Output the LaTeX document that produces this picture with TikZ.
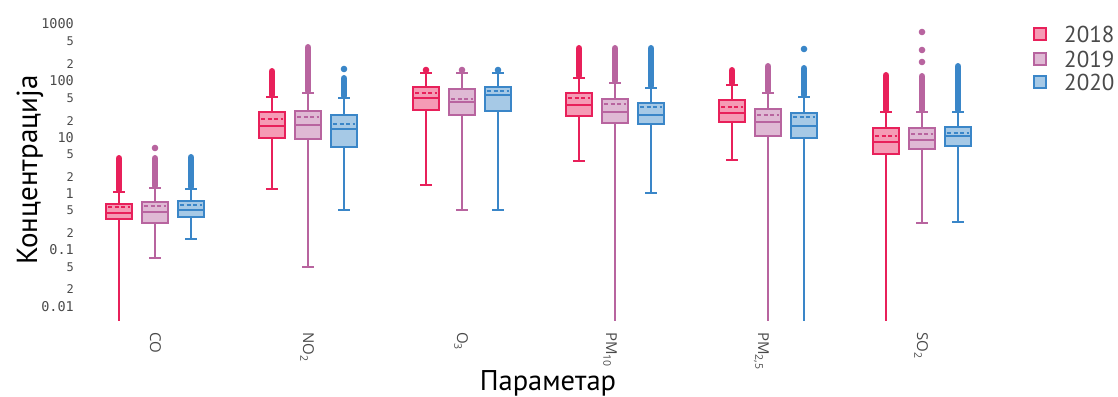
\documentclass[tikz,border=0pt]{standalone}
\usepackage{fontspec}
\setmainfont{PT Sans}
\newfontfamily\tickfont{DejaVu Sans Mono}
\newfontfamily\labfont{Open Sans}
\definecolor{cA}{HTML}{E8205A}
\definecolor{cB}{HTML}{B8649F}
\definecolor{cC}{HTML}{3A86C8}
\definecolor{txt}{HTML}{4A4A4A}
\newcommand\bxp[8]{%
  \draw[#2, line width=2pt] (#1,#3) -- (#1,#4);
  \draw[#2, line width=2pt] (#1-6,#3) -- (#1+6,#3);
  \draw[#2, line width=2pt] (#1,#7) -- (#1,#8);
  \filldraw[draw=#2, fill=#2!45, line width=2pt] (#1-13,#4) rectangle (#1+13,#7);
  \draw[#2, line width=1.6pt, dash pattern=on 4pt off 2.5pt] (#1-11,#5) -- (#1+11,#5);
  \draw[#2, line width=1.6pt] (#1-12,#6) -- (#1+12,#6);
}
\newcommand\lcap[3]{\draw[#2, line width=2pt] (#1-6,#3) -- (#1+6,#3);}
\newcommand\band[4]{\draw[#2, line width=6.5pt, line cap=round] (#1,#3+3.25) -- (#1,#4-2);}
\newcommand\outdot[3]{\fill[#2] (#1,#3) circle[radius=3.3pt];}
\tikzset{
  tick/.style={anchor=east, text=txt, font=\tickfont\fontsize{13.5}{14}\selectfont, inner sep=0pt},
  mtick/.style={anchor=east, text=txt, font=\tickfont\fontsize{12}{13}\selectfont, inner sep=0pt},
  xlab/.style={rotate=-90, anchor=base west, text=txt, font=\labfont\fontsize{15}{17}\selectfont, inner sep=0pt},
  legtxt/.style={anchor=west, text=txt, font=\fontsize{23}{25}\selectfont, inner sep=0pt},
}
\begin{document}
\begin{tikzpicture}[x=1pt,y=-1pt]
\useasboundingbox (0,0) rectangle (1118,396);
% y ticks
\node[tick] (t1000) at (74,24) {1000};
\node[mtick] (t500) at (74,41) {5};
\node[mtick] (t200) at (74,64) {2};
\node[tick] (t100) at (74,81) {100};
\node[mtick] (t50) at (74,98) {5};
\node[mtick] (t20) at (74,121) {2};
\node[tick] (t10) at (74,137.5) {10};
\node[mtick] (t5) at (74,154.5) {5};
\node[mtick] (t2) at (74,177) {2};
\node[tick] (t1) at (74,193.5) {1};
\node[mtick] (t05) at (74,210.5) {5};
\node[mtick] (t02) at (74,233) {2};
\node[tick] (t01) at (74,250) {0.1};
\node[mtick] (t005) at (74,267) {5};
\node[mtick] (t002) at (74,289.5) {2};
\node[tick] (t001) at (74,306.5) {0.01};
% axis titles
\node[rotate=90, anchor=base, text=black, font=\fontsize{29}{32}\selectfont, inner sep=0pt] (ytitle) at (37,170) {Концентрација};
\node[text=black, font=\fontsize{28.5}{30}\selectfont, inner sep=0pt] (xtitle) at (548,383) {Параметар};
% CO
\band{119}{cA}{155}{192}\bxp{119}{cA}{192}{204}{207}{213}{219}{321}
\outdot{155}{cB}{148}\band{155}{cB}{155}{188}\bxp{155}{cB}{188}{202}{206}{212}{223}{258}\lcap{155}{cB}{258}
\band{191}{cC}{154}{189}\bxp{191}{cC}{189}{201}{205}{210}{217}{239}\lcap{191}{cC}{239}
% NO2
\band{272}{cA}{68}{97}\bxp{272}{cA}{97}{112}{119}{126}{138}{189}\lcap{272}{cA}{189}
\band{308}{cB}{44}{93}\bxp{308}{cB}{93}{111}{117}{125}{139}{267}\lcap{308}{cB}{267}
\outdot{344}{cC}{69}\band{344}{cC}{75}{98}\bxp{344}{cC}{98}{115}{124}{129}{147}{210}\lcap{344}{cC}{210}
% O3
\outdot{426}{cA}{70}\bxp{426}{cA}{73}{87}{93}{98}{110}{185}\lcap{426}{cA}{185}
\outdot{462}{cB}{70}\bxp{462}{cB}{73}{89}{99}{102}{115}{210}\lcap{462}{cB}{210}
\outdot{498}{cC}{70}\bxp{498}{cC}{73}{87}{91}{95}{111}{210}\lcap{498}{cC}{210}
% PM10
\band{579}{cA}{45}{78}\bxp{579}{cA}{78}{93}{98}{105}{116}{161}\lcap{579}{cA}{161}
\band{615}{cB}{45}{83}\bxp{615}{cB}{83}{99}{104}{112}{123}{321}
\band{651}{cC}{45}{88}\bxp{651}{cC}{88}{103}{107}{115}{124}{193}\lcap{651}{cC}{193}
% PM2.5
\band{732}{cA}{67}{85}\bxp{732}{cA}{85}{100}{107}{113}{122}{160}\lcap{732}{cA}{160}
\band{768}{cB}{63}{93}\bxp{768}{cB}{93}{109}{115}{122}{136}{321}
\outdot{804}{cC}{49}\band{804}{cC}{65}{97}\bxp{804}{cC}{97}{113}{117}{126}{138}{321}
% SO2
\band{886}{cA}{72}{112}\bxp{886}{cA}{112}{128}{136}{142}{154}{321}
\outdot{922}{cB}{32}\outdot{922}{cB}{50}\outdot{922}{cB}{62}\band{922}{cB}{73}{112}\bxp{922}{cB}{112}{128}{134}{140}{149}{223}\lcap{922}{cB}{223}
\band{958}{cC}{63}{112}\bxp{958}{cC}{112}{127}{133}{136}{146}{222}\lcap{958}{cC}{222}
% x labels
\node[xlab] (lCO) at (150,332) {CO};
\node[xlab] (lNO) at (303,332) {NO\textsubscript{2}};
\node[xlab] (lO) at (457,332) {O\textsubscript{3}};
\node[xlab] (lPM10) at (606,332) {PM\textsubscript{10}};
\node[xlab] (lPM25) at (758,332) {PM\textsubscript{2,5}};
\node[xlab] (lSO) at (917,332) {SO\textsubscript{2}};
% legend
\filldraw[draw=cA, fill=cA!45, line width=1.8pt] (1034,28) rectangle (1046,40);
\filldraw[draw=cB, fill=cB!45, line width=1.8pt] (1034,53) rectangle (1046,65);
\filldraw[draw=cC, fill=cC!45, line width=1.8pt] (1034,76) rectangle (1046,88);
\node[legtxt] (g18) at (1064,34) {2018};
\node[legtxt] (g19) at (1064,59) {2019};
\node[legtxt] (g20) at (1064,82) {2020};
\end{tikzpicture}
\end{document}
